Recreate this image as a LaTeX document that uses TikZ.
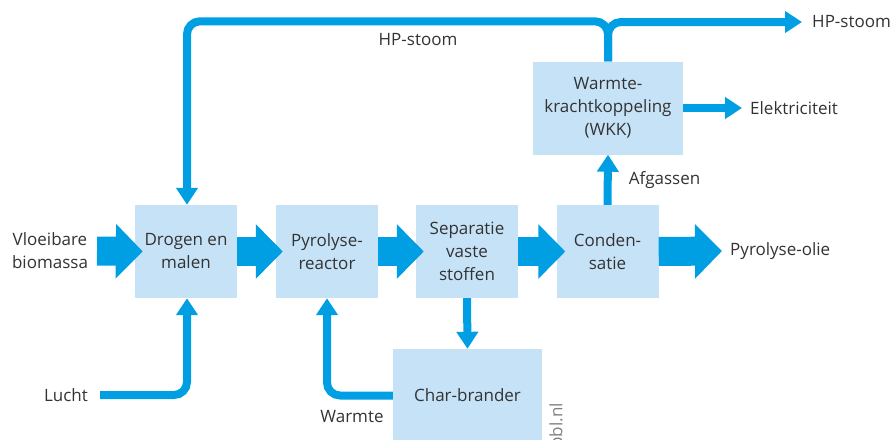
\documentclass[tikz,border=0pt]{standalone}
\usepackage{fontspec}
\setmainfont{Open Sans}
\usetikzlibrary{arrows.meta}
\definecolor{flowblue}{HTML}{009FE3}
\definecolor{boxblue}{HTML}{C6E2F7}
\definecolor{txtgray}{HTML}{333333}

\begin{document}
\begin{tikzpicture}[x=1pt,y=-1pt,
  font=\fontsize{17}{23}\selectfont,
  box/.style={fill=boxblue,minimum width=102pt,minimum height=93pt,align=center,text=txtgray,inner sep=0pt},
  lbl/.style={text=txtgray,align=center,inner sep=0pt},
  fat/.style={flowblue,line width=29pt,-{Triangle[length=27pt,width=53pt]}},
  pipe/.style={flowblue,line width=8pt,rounded corners=13pt,-{Triangle[length=17pt,width=21pt]}}]
\useasboundingbox (0,0) rectangle (891,439);

% blokken
\node[box] (drogen) at (186,251.5) {Drogen en\\malen};
\node[box] (pyro) at (327,251.5) {Pyrolyse-\\reactor};
\node[box] (sep) at (467,251.5) {Separatie\\vaste\\stoffen};
\node[box] (cond) at (607.5,251.5) {Conden-\\satie};
\node[box,minimum width=150pt] (wkk) at (608,108) {Warmte-\\krachtkoppeling\\(WKK)};
\node[box,minimum width=149pt] (char) at (467.5,395.5) {Char-brander};

% teksten
\node[lbl] (bio) at (50,251) {Vloeibare\\biomassa};
\node[lbl,anchor=west] (olie) at (730,251) {Pyrolyse-olie};
\node[lbl] (lucht) at (66,395) {Lucht};
\node[lbl] (warmte) at (352,417) {Warmte};
\node[lbl] (hp) at (418,40) {HP-stoom};
\node[lbl,anchor=west] (hpuit) at (812,22) {HP-stoom};
\node[lbl,anchor=west] (elek) at (750,108) {Elektriciteit};
\node[lbl,text=gray,font=\fontsize{17}{17}\selectfont,rotate=90,anchor=east] (pbl) at (558,403) {pbl.nl};

% hoofdstroom
\draw[fat] (97,251) -- ([xshift=8pt]drogen.west);
\draw[fat] (drogen.east) -- ([xshift=7pt]pyro.west);
\draw[fat] (pyro.east) -- ([xshift=8pt]sep.west);
\draw[fat] (sep.east) -- ([xshift=9pt]cond.west);
\draw[fat] (cond.east) -- ([xshift=-8pt]olie.west);

% overige stromen
\draw[pipe] (wkk.north) -- ([yshift=40pt]wkk.north) -| ([xshift=1pt]drogen.north);
\draw[pipe] (wkk.north) |- ([xshift=-10pt]hpuit.west);
\draw[pipe] (wkk.east) -- ([xshift=-8pt]elek.west);
\draw[pipe] (cond.north) -- (wkk.south) node[midway,lbl,anchor=west,xshift=17pt] {Afgassen};
\draw[pipe] (sep.south) -- (char.north);
\draw[pipe] (100,395) -| ([xshift=1pt]drogen.south);
\draw[pipe] (char.west) -| (pyro.south);

\end{tikzpicture}
\end{document}
